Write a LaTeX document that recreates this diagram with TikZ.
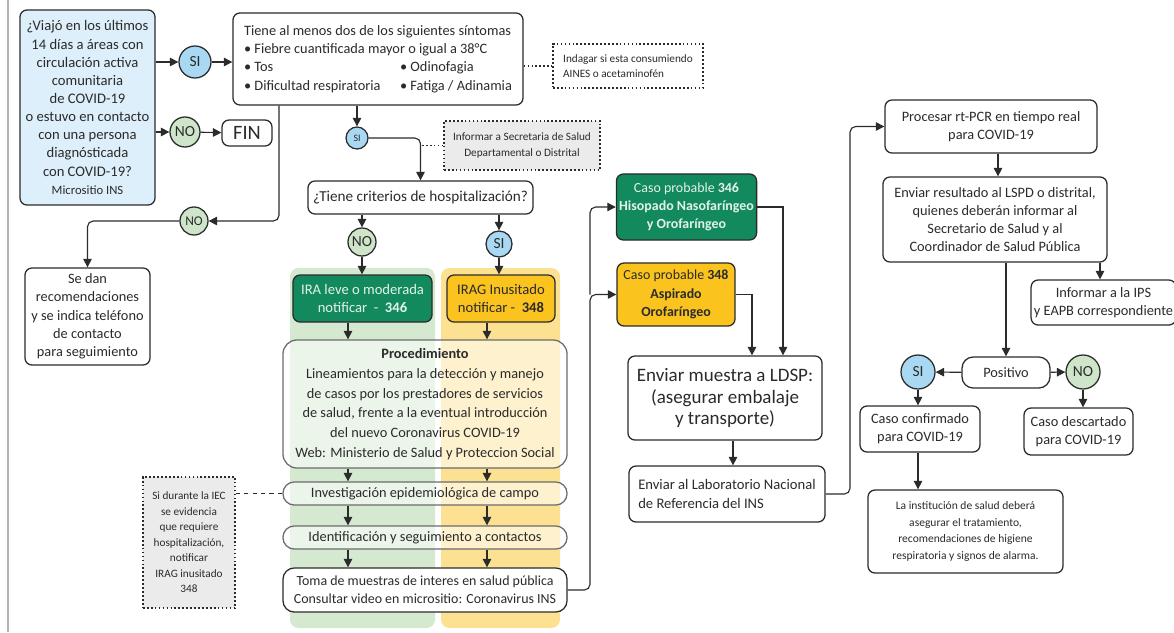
\documentclass[tikz,border=0pt]{standalone}
\usepackage{fontspec}
\setmainfont{Carlito}
\usetikzlibrary{arrows.meta}
\definecolor{qblue}{HTML}{DDEFFA}
\definecolor{siblue}{HTML}{A9D9F2}
\definecolor{nogreen}{HTML}{CFE5C9}
\definecolor{darkgreen}{HTML}{138A5E}
\definecolor{gold}{HTML}{FBC31E}
\definecolor{colgreen}{HTML}{D5E9D1}
\definecolor{colgold}{HTML}{FDE193}
\definecolor{notegray}{HTML}{EBEBEB}
\definecolor{ink}{HTML}{2B2B2B}

\begin{document}
\begin{tikzpicture}[x=0.025cm, y=-0.025cm,
  box/.style={draw=ink, line width=0.9pt, rounded corners=5pt, fill=white, text=ink,
    align=center, inner sep=2pt, font=\fontsize{10.2}{13}\selectfont},
  pill/.style={box, rounded corners=8pt, fill=white, fill opacity=0.55, text opacity=1,
    minimum width=7.1cm, font=\fontsize{10.2}{14}\selectfont},
  sicirc/.style={circle, draw=ink, line width=0.9pt, fill=siblue, text=ink, inner sep=0pt,
    minimum size=0.8cm, font=\fontsize{11}{12}\selectfont},
  nocirc/.style={sicirc, fill=nogreen},
  note/.style={draw=ink, dash pattern=on 1.2pt off 1.6pt, line width=0.9pt, fill=notegray, text=ink,
    align=center, inner sep=2pt, font=\fontsize{8}{11}\selectfont},
  arr/.style={draw=ink, line width=0.8pt, -{Triangle[length=6pt,width=6pt]}},
  link/.style={draw=ink, line width=0.8pt},
  dotlink/.style={draw=ink, line width=0.8pt, dash pattern=on 1.2pt off 1.6pt},
  dashlink/.style={draw=ink, line width=0.8pt, dashed}]
  \useasboundingbox (0,0) rectangle (1174,632);
  \draw[gray!60, line width=1pt] (8,0) -- (8,632);

  % columnas de fondo
  \fill[colgreen, rounded corners=6pt] (290,268) rectangle (435,628);
  \fill[colgold, rounded corners=6pt] (441,268) rectangle (560,628);
  \coordinate (gcol) at (348,0);
  \coordinate (ycol) at (487,0);
  \coordinate (bus) at (590,0);
  \coordinate (lsp1) at (752,0);
  \coordinate (lsp2) at (783,0);
  \coordinate (bus2) at (850,0);

  % pregunta inicial
  \node[box, fill=qblue, font=\fontsize{10.4}{12.9}\selectfont, minimum width=3.375cm, minimum height=4.875cm] (viaje) at (87.5,107.5)
    {¿Viajó en los últimos\\14 días a áreas con\\circulación activa\\comunitaria\\de COVID-19\\
     o estuvo en contacto\\con una persona\\diagnósticada\\con COVID-19?\\
     {\fontsize{9}{13}\selectfont Micrositio INS}};
  \node[sicirc] (si1) at (195,62) {SI};
  \node[box, align=left, minimum width=7.25cm, minimum height=2.3cm] (sint) at (378,59)
    {Tiene al menos dos de los siguientes síntomas\\
     \textbullet\ Fiebre cuantificada mayor o igual a 38°C\\
     \makebox[3.9cm][l]{\textbullet\ Tos}\textbullet\ Odinofagia\\
     \makebox[3.9cm][l]{\textbullet\ Dificultad respiratoria}\textbullet\ Fatiga / Adinamia};
  \node[nocirc, minimum size=0.75cm] (no1) at (185,132) {NO};
  \node[box, font=\fontsize{14.5}{16}\selectfont, minimum width=1.25cm, minimum height=0.65cm] (fin) at (247,133) {FIN};
  \node[note, fill=white, align=left, minimum width=3.75cm, minimum height=1.1cm] (aines) at (628,66)
    {Indagar si esta consumiendo\\AINES o acetaminofén};

  % rama NO
  \node[nocirc, minimum size=0.7cm, font=\fontsize{9.5}{10}\selectfont] (no2) at (194,221) {NO};
  \node[box, minimum width=3.125cm, minimum height=2.425cm] (reco) at (87.5,316.5)
    {Se dan\\recomendaciones\\y se indica teléfono\\de contacto\\para seguimiento};

  % rama SI
  \node[sicirc, minimum size=0.55cm, font=\fontsize{7}{8}\selectfont] (si2) at (357,138) {SI};
  \node[note, minimum width=3.9cm, minimum height=1.225cm] (secre) at (522,145.5)
    {Informar a Secretaria de Salud\\Departamental o Distrital};
  \node[box, font=\fontsize{10.8}{13}\selectfont, minimum width=5.625cm, minimum height=0.825cm] (hosp) at (420.5,197.5)
    {¿Tiene criterios de hospitalización?};
  \node[nocirc, minimum size=0.7cm] (no3) at (362,242) {NO};
  \node[sicirc, minimum size=0.65cm] (si3) at (499,244) {SI};
  \node[box, fill=darkgreen, text=white!88!darkgreen, font=\fontsize{10.4}{13}\selectfont, minimum width=3.475cm, minimum height=1.175cm] (ira) at (362.5,298.5)
    {IRA leve o moderada\\notificar~~-~~\textbf{346}};
  \node[box, fill=gold, font=\fontsize{10.4}{13}\selectfont, minimum width=2.7cm, minimum height=1.175cm] (irag) at (501,298.5)
    {IRAG Inusitado\\notificar -~~\textbf{348}};

  % procedimiento
  \node[pill, rounded corners=10pt, minimum height=3.2cm, draw=ink!70] (proc) at (425,404)
    {\textbf{Procedimiento}\\Lineamientos para la detección y manejo\\de casos por los prestadores de servicios\\
     de salud, frente a la eventual introducción\\del nuevo Coronavirus COVID-19\\
     Web: Ministerio de Salud y Proteccion Social};
  \node[pill, draw=ink!70, minimum height=0.575cm] (inv) at (425,493.5) {Investigación epidemiológica de campo};
  \node[pill, draw=ink!70, minimum height=0.575cm] (iden) at (425,537.5) {Identificación y seguimiento a contactos};
  \node[box, rounded corners=8pt, font=\fontsize{9.9}{13}\selectfont, minimum width=7.1cm, minimum height=1.1cm] (toma) at (425,590)
    {Toma de muestras de interes en salud pública\\Consultar video en micrositio: Coronavirus INS};
  \node[note, minimum width=2.3cm, minimum height=3.275cm] (iec) at (189,542.5)
    {Si durante la IEC\\se evidencia\\que requiere\\hospitalización,\\notificar\\IRAG inusitado\\348};

  % muestras
  \node[box, fill=darkgreen, text=white!88!darkgreen, font=\fontsize{9.9}{13}\selectfont, minimum width=3.475cm, minimum height=1.65cm] (hiso) at (686.5,207)
    {Caso probable \textbf{346}\\\textbf{Hisopado Nasofaríngeo}\\\textbf{y Orofaríngeo}};
  \node[box, fill=gold, font=\fontsize{9.9}{13}\selectfont, minimum width=2.95cm, minimum height=1.575cm] (aspi) at (676,294.5)
    {Caso probable \textbf{348}\\\textbf{Aspirado}\\\textbf{Orofaríngeo}};
  \node[box, font=\fontsize{13.5}{15.5}\selectfont, minimum width=4.85cm, minimum height=2.1cm] (ldsp) at (725,398)
    {Enviar muestra a LDSP:\\(asegurar embalaje\\y transporte)};
  \node[box, align=left, font=\fontsize{10.4}{13.5}\selectfont, minimum width=4.9cm, minimum height=1.4cm] (lab) at (727,494)
    {Enviar al Laboratorio Nacional\\de Referencia del INS};

  % laboratorio
  \node[box, minimum width=5.3cm, minimum height=1.325cm] (pcr) at (991,126.5)
    {Procesar rt-PCR en tiempo real\\para COVID-19};
  \node[box, minimum width=5.6cm, minimum height=2.125cm] (resu) at (995,219.5)
    {Enviar resultado al LSPD o distrital,\\quienes deberán informar al\\Secretario de Salud y al\\Coordinador de Salud Pública};
  \node[box, minimum width=3.45cm, minimum height=1.125cm] (ips) at (1103.5,302.5)
    {Informar a la IPS\\y EAPB correspondiente};
  \node[box, rounded corners=8pt, minimum width=2.2cm, minimum height=0.775cm] (posi) at (1006,372.5) {Positivo};
  \node[sicirc, minimum size=0.85cm] (si4) at (918,372) {SI};
  \node[nocirc, minimum size=0.85cm] (no4) at (1083,372) {NO};
  \node[box, minimum width=3cm, minimum height=1.15cm] (conf) at (920,429) {Caso confirmado\\para COVID-19};
  \node[box, minimum width=2.725cm, minimum height=1.175cm] (desc) at (1078.5,431.5) {Caso descartado\\para COVID-19};
  \node[box, font=\fontsize{8.2}{12}\selectfont, minimum width=4.875cm, minimum height=2.075cm] (inst) at (965.5,531.5)
    {La institución de salud deberá\\asegurar el tratamiento,\\recomendaciones de higiene\\respiratoria y signos de alarma.};

  % conectores
  \draw[arr] (si1 -| viaje.east) -- (si1);
  \draw[arr] (si1) -- (si1 -| sint.west);
  \draw[arr] (no1 -| viaje.east) -- (no1);
  \draw[arr] (no1) -- (fin);
  \draw[dotlink] (sint.east |- aines) -- (aines.west);
  \draw[arr, rounded corners=4pt] ([xshift=-2.475cm]sint.south) |- (no2);
  \draw[arr, rounded corners=4pt] (no2) -| (reco);
  \draw[arr] (sint.south -| si2) -- (si2);
  \draw[arr, rounded corners=4pt] (si2) -| (hosp);
  \draw[dotlink] (secre.west) -- (secre.west -| hosp);
  \draw[arr] (hosp.south -| no3) -- (no3);
  \draw[arr] (hosp.south -| si3) -- (si3);
  \draw[arr] (no3) -- (no3 |- ira.north);
  \draw[arr] (si3) -- (si3 |- irag.north);
  \draw[arr] (ira.south -| gcol) -- (proc.north -| gcol);
  \draw[arr] (irag.south -| ycol) -- (proc.north -| ycol);
  \foreach \col in {gcol,ycol} {
    \draw[arr] (proc.south -| \col) -- (inv.north -| \col);
    \draw[arr] (inv.south -| \col) -- (iden.north -| \col);
    \draw[arr] (iden.south -| \col) -- (toma.north -| \col);
  }
  \draw[dashlink] (iec.east |- inv) -- (inv.west);
  \draw[arr, rounded corners=4pt] (toma.east) -| (bus |- aspi) -- (aspi.west);
  \draw[arr, rounded corners=4pt] (bus |- aspi) |- (hiso.west);
  \draw[arr] (hiso.east) -| (lsp2 |- ldsp.north);
  \draw[arr] (aspi.east) -| (lsp1 |- ldsp.north);
  \draw[arr] (ldsp.south -| 733,0) -- (lab.north -| 733,0);
  \draw[arr, rounded corners=4pt] (lab.east) -- (lab.east -| bus2) |- (pcr.west);
  \draw[arr] (pcr.south -| 998,0) -- (resu.north -| 998,0);
  \draw[arr] (resu.south -| 1100,0) -- (ips.north -| 1100,0);
  \draw[arr] (resu.south -| posi) -- (posi);
  \draw[arr] (posi) -- (si4);
  \draw[arr] (posi) -- (no4);
  \draw[arr] (si4) -- (si4 |- conf.north);
  \draw[arr] (no4) -- (no4 |- desc.north);
  \draw[arr] (conf.south -| si4) -- (si4 |- inst.north);
\end{tikzpicture}
\end{document}
